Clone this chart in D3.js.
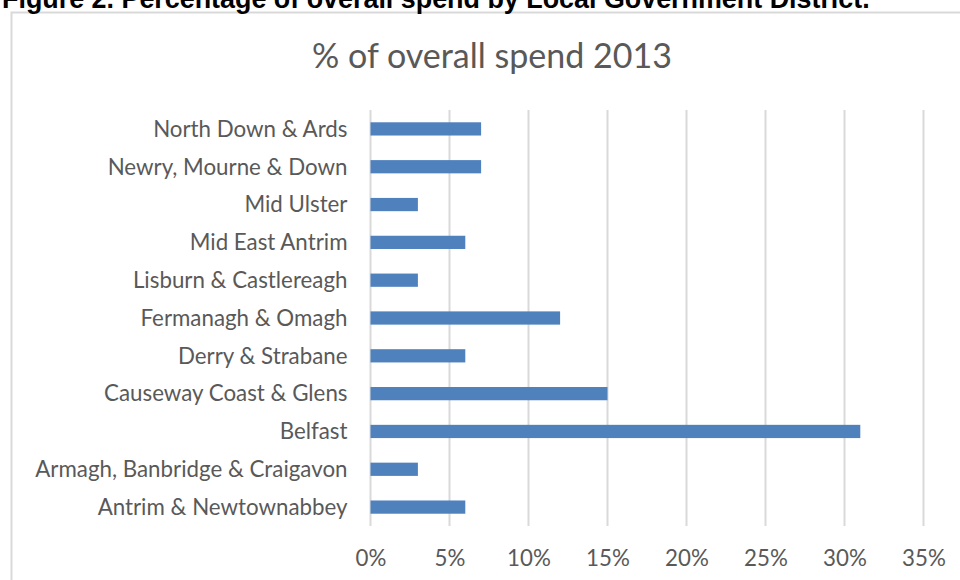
<!DOCTYPE html>
<html><head><meta charset="utf-8">
<script src="https://cdn.jsdelivr.net/npm/d3@7"></script>
<style>html,body{margin:0;padding:0;background:#fff;overflow:hidden}</style>
</head><body>
<svg id="c" width="960" height="580"></svg>
<script>
const caption = "Figure 2. Percentage of overall spend by Local Government District.";
const title = "% of overall spend 2013";
const categories = ["North Down & Ards","Newry, Mourne & Down","Mid Ulster","Mid East Antrim","Lisburn & Castlereagh","Fermanagh & Omagh","Derry & Strabane","Causeway Coast & Glens","Belfast","Armagh, Banbridge & Craigavon","Antrim & Newtownabbey"];
const values = [7,7,3,6,3,12,6,15,31,3,6];
const ticks = [0,5,10,15,20,25,30,35];

const svg = d3.select("#c");
const font = "Lato, 'Open Sans', sans-serif";
const grey = "#595959";

// chart frame
svg.append("rect").attr("x",11.5).attr("y",12.5).attr("width",1000).attr("height",700)
  .attr("fill","#fff").attr("stroke","#d9d9d9").attr("stroke-width",2);

// caption (clipped at top, as in the reference)
const cap = svg.append("text").attr("x",2).attr("y",8)
  .attr("font-family","'Liberation Sans', Arial, sans-serif").attr("font-weight","bold")
  .attr("font-size",22).attr("fill","#000").text(caption);
const cw = cap.node().getComputedTextLength();
cap.attr("font-size", 22*868/cw);

const x = d3.scaleLinear().domain([0,35]).range([370.5,923.5]);
const y = d3.scaleBand().domain(categories).range([110,526]).paddingInner(0.65).paddingOuter(0.325);

// gridlines
svg.append("g").selectAll("line").data(ticks).join("line")
  .attr("x1",d=>x(d)).attr("x2",d=>x(d)).attr("y1",110).attr("y2",526)
  .attr("stroke","#d9d9d9").attr("stroke-width",2);

// bars
svg.append("g").selectAll("rect").data(values).join("rect")
  .attr("x",x(0)).attr("y",(d,i)=>y(categories[i]))
  .attr("width",d=>x(d)-x(0)).attr("height",y.bandwidth())
  .attr("fill","#4f81bd");

// measure font size for labels
const probe = svg.append("text").attr("font-family",font).attr("font-size",20).text("Antrim & Newtownabbey");
const pw = probe.node().getComputedTextLength();
probe.remove();
const fs = 20*250/pw;

// y axis labels
const yAxis = d3.axisLeft(y).tickSize(0).tickPadding(23);
const gy = svg.append("g").attr("transform",`translate(${x(0)},0)`).call(yAxis);
gy.select(".domain").remove();
gy.selectAll("text").attr("font-family",font).attr("font-size",fs).attr("fill",grey).attr("dy","0.35em");

// x axis labels
const xAxis = d3.axisBottom(x).tickValues(ticks).tickFormat(d=>d+"%").tickSize(0).tickPadding(0);
const gx = svg.append("g").attr("transform","translate(0,558)").call(xAxis);
gx.select(".domain").remove();
gx.selectAll("text").attr("font-family",font).attr("font-size",fs).attr("fill",grey).attr("dy","0.35em");

// title
const t = svg.append("text").attr("x",492).attr("y",68).attr("text-anchor","middle")
  .attr("font-family",font).attr("font-size",28).attr("fill",grey).text(title);
const tw = t.node().getComputedTextLength();
t.attr("font-size",28*360/tw);
</script>
</body></html>
